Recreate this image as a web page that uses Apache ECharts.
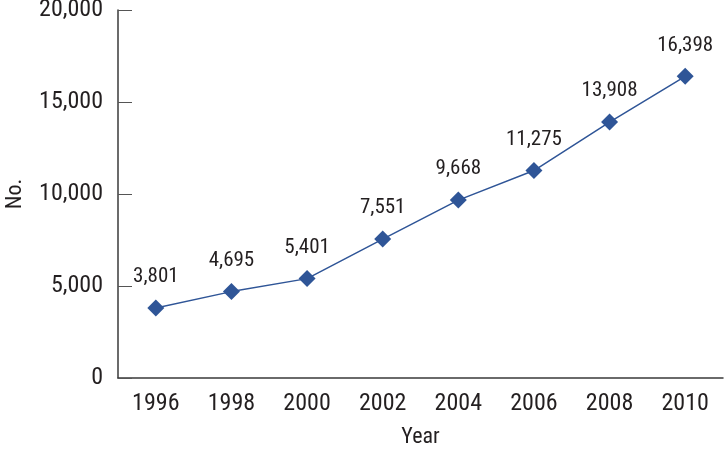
<!DOCTYPE html>
<html><head><meta charset="utf-8">
<script src="https://cdn.jsdelivr.net/npm/echarts@6/dist/echarts.min.js"></script>
<style>html,body{margin:0;padding:0;background:#fff}#c{width:724px;height:450px}</style>
</head><body><div id="c"></div>
<script>
const years = ['1996','1998','2000','2002','2004','2006','2008','2010'];
const counts = [3801, 4695, 5401, 7551, 9668, 11275, 13908, 16398];
const yTicks = [0, 5000, 10000, 15000, 20000];
const FONT = '"Liberation Sans Narrow", "Roboto Condensed", "Liberation Sans", sans-serif';
const fmt = v => v.toLocaleString('en-US');
const chart = echarts.init(document.getElementById('c'));
chart.setOption({
  animation: false,
  grid: {left: 118, right: 1, top: 10, bottom: 72, containLabel: false, outerBoundsMode: 'none'},
  xAxis: {
    type: 'category', data: years, boundaryGap: true,
    name: 'Year', nameLocation: 'middle', nameGap: 48,
    nameTextStyle: {fontFamily: FONT, fontSize: 22, color: '#231f20'},
    axisLine: {lineStyle: {color: '#3a3a3a', width: 1.5}},
    axisTick: {inside: true, length: 14, lineStyle: {color: '#555', width: 1}},
    axisLabel: {fontFamily: FONT, fontSize: 24, color: '#231f20', margin: 14}
  },
  yAxis: {
    type: 'value', min: yTicks[0], max: yTicks[yTicks.length-1], interval: 5000,
    name: 'No.', nameLocation: 'middle', nameGap: 92, nameRotate: 90,
    nameTextStyle: {fontFamily: FONT, fontSize: 22, color: '#231f20'},
    splitLine: {show: false},
    axisLine: {show: true, lineStyle: {color: '#3a3a3a', width: 1.5}},
    axisTick: {show: true, inside: true, length: 14, lineStyle: {color: '#555', width: 1}},
    axisLabel: {fontFamily: FONT, fontSize: 24, color: '#231f20', margin: 15, formatter: v => fmt(v)}
  },
  series: [{
    type: 'line', data: counts,
    symbol: 'diamond', symbolSize: 17,
    lineStyle: {color: '#2f5597', width: 1.5},
    itemStyle: {color: '#2f5597'},
    label: {show: true, position: 'top', distance: 12, fontFamily: FONT, fontSize: 21, color: '#231f20', formatter: p => fmt(p.value)}
  }]
});
</script></body></html>
